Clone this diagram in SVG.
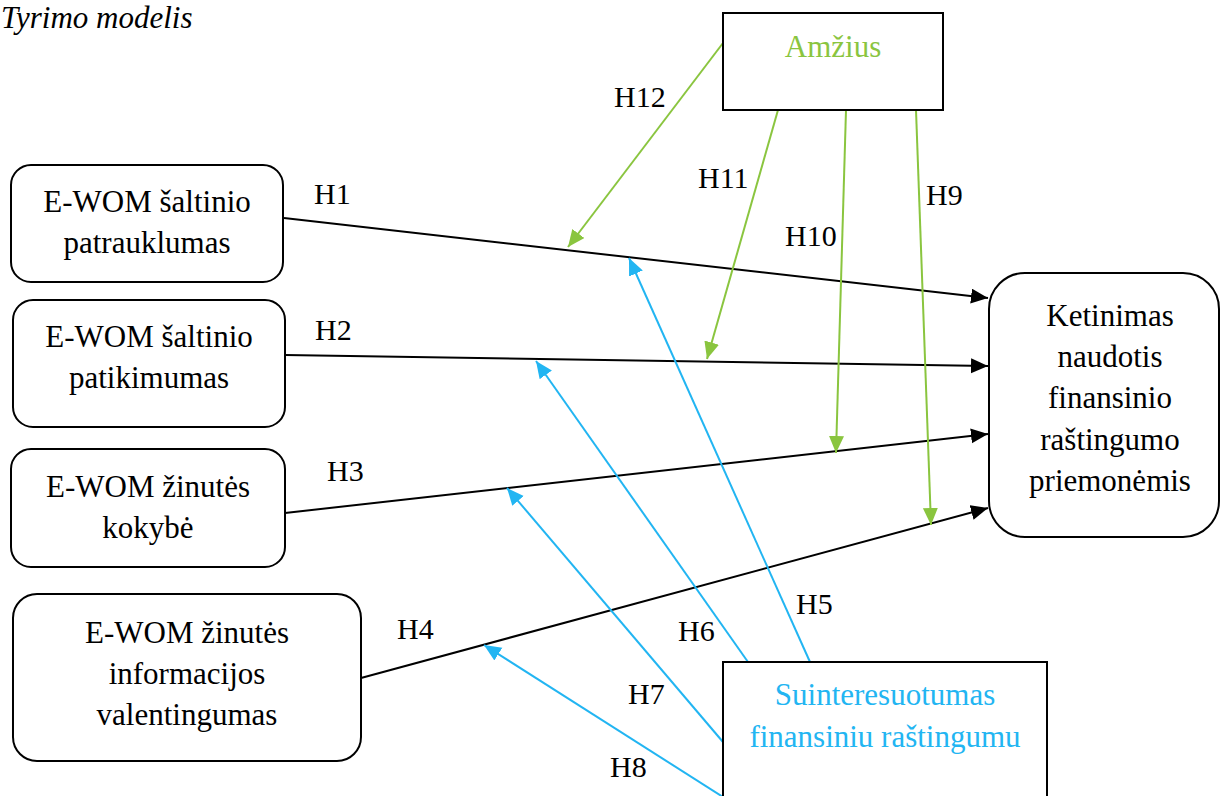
<svg xmlns="http://www.w3.org/2000/svg" width="1221" height="796" viewBox="0 0 1221 796" font-family="'Liberation Serif', 'Times New Roman', 'DejaVu Serif', serif">
<style>
text{font-family:'Liberation Serif','Times New Roman','DejaVu Serif',serif;fill:#000}
.box{fill:#fff;stroke:#000;stroke-width:2}
.t{font-size:31px;text-anchor:middle}
.lbl{font-size:30px}
.k{stroke:#000;stroke-width:2;fill:none;marker-end:url(#ak)}
.g{stroke:#8AC53F;stroke-width:2;fill:none;marker-end:url(#ag)}
.b{stroke:#22B5F2;stroke-width:2;fill:none;marker-end:url(#ab)}
</style>
<defs>
<marker id="ak" markerUnits="userSpaceOnUse" markerWidth="18" markerHeight="16" refX="17" refY="7.5" orient="auto"><path d="M0,0 L17,7.5 L0,15 Z" fill="#000"/></marker>
<marker id="ag" markerUnits="userSpaceOnUse" markerWidth="18" markerHeight="16" refX="17" refY="7.5" orient="auto"><path d="M0,0 L17,7.5 L0,15 Z" fill="#8AC53F"/></marker>
<marker id="ab" markerUnits="userSpaceOnUse" markerWidth="18" markerHeight="16" refX="17" refY="7.5" orient="auto"><path d="M0,0 L17,7.5 L0,15 Z" fill="#22B5F2"/></marker>
</defs>
<rect width="1221" height="796" fill="#fff"/>
<text x="1" y="28" font-size="31" font-style="italic">Tyrimo modelis</text>

<g id="connectors">
<line class="k" x1="284" y1="218" x2="988" y2="298"/>
<line class="k" x1="285" y1="355" x2="988" y2="366"/>
<line class="k" x1="285" y1="513" x2="988" y2="434"/>
<line class="k" x1="361" y1="678" x2="988" y2="508"/>
<line class="g" x1="723" y1="43" x2="568" y2="247"/>
<line class="g" x1="778" y1="110" x2="707" y2="359"/>
<line class="g" x1="846" y1="110" x2="836" y2="453"/>
<line class="g" x1="916" y1="110" x2="931" y2="525"/>
<line class="b" x1="810" y1="662" x2="629" y2="258"/>
<line class="b" x1="748" y1="662" x2="536" y2="361"/>
<line class="b" x1="723" y1="742" x2="507" y2="488"/>
<line class="b" x1="723" y1="797" x2="484" y2="645"/>
<text class="lbl" x="314" y="204">H1</text>
<text class="lbl" x="315" y="340">H2</text>
<text class="lbl" x="327" y="481">H3</text>
<text class="lbl" x="397" y="639">H4</text>
<text class="lbl" x="796" y="614">H5</text>
<text class="lbl" x="678" y="641">H6</text>
<text class="lbl" x="628" y="704">H7</text>
<text class="lbl" x="610" y="777">H8</text>
<text class="lbl" x="926" y="205">H9</text>
<text class="lbl" x="785" y="246">H10</text>
<text class="lbl" x="698" y="188">H11</text>
<text class="lbl" x="614" y="107">H12</text>
</g>

<g id="n1"><rect class="box" x="11" y="165" width="272" height="117" rx="20"/>
<text class="t" x="147" y="212">E-WOM šaltinio</text><text class="t" x="147" y="253">patrauklumas</text></g>
<g id="n2"><rect class="box" x="13" y="300" width="272" height="127" rx="20"/>
<text class="t" x="149" y="347">E-WOM šaltinio</text><text class="t" x="149" y="388">patikimumas</text></g>
<g id="n3"><rect class="box" x="11" y="449" width="274" height="118" rx="20"/>
<text class="t" x="148" y="497">E-WOM žinutės</text><text class="t" x="148" y="538">kokybė</text></g>
<g id="n4"><rect class="box" x="13" y="594" width="348" height="167" rx="24"/>
<text class="t" x="187" y="643">E-WOM žinutės</text><text class="t" x="187" y="684">informacijos</text><text class="t" x="187" y="725">valentingumas</text></g>
<g id="n5"><rect class="box" x="989" y="273" width="230" height="264" rx="36"/>
<text class="t" x="1110" y="326">Ketinimas</text><text class="t" x="1110" y="367">naudotis</text><text class="t" x="1110" y="408">finansinio</text><text class="t" x="1110" y="450">raštingumo</text><text class="t" x="1110" y="491">priemonėmis</text></g>
<g id="n6"><rect class="box" x="723" y="13" width="220" height="97"/>
<text class="t" x="833" y="57" style="fill:#8AC53F">Amžius</text></g>
<g id="n7"><rect class="box" x="723" y="662" width="324" height="150"/>
<text class="t" x="885" y="705" style="fill:#22B5F2">Suinteresuotumas</text><text class="t" x="885" y="747" style="fill:#22B5F2">finansiniu raštingumu</text></g>
</svg>
